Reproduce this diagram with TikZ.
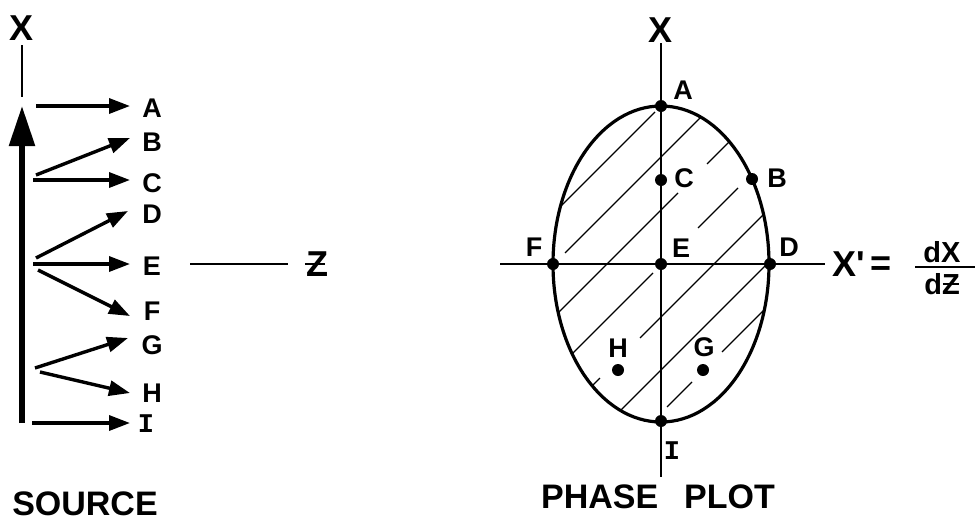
\documentclass[tikz,border=0pt]{standalone}
\usepackage{fontspec}
\setmainfont{Liberation Sans}
\newfontfamily\monoI{Liberation Mono}
\usetikzlibrary{arrows.meta}
\begin{document}
\begin{tikzpicture}[x=1pt,y=-1pt,
  lbl/.style={font=\bfseries\fontsize{27}{27}\selectfont, inner sep=0pt},
  big/.style={font=\bfseries\fontsize{36}{36}\selectfont, inner sep=0pt},
  title/.style={font=\bfseries\fontsize{34}{34}\selectfont, inner sep=0pt},
  frac/.style={font=\bfseries\fontsize{29}{29}\selectfont, inner sep=0pt},
  ray/.style={line width=3.4pt, -{Triangle[length=21pt,width=15pt]}},
  dot/.style={circle, fill, inner sep=0pt, minimum size=12pt},
  ax/.style={line width=1.7pt},
  hatch/.style={line width=1.2pt},
  zbar/.style={line width=2.6pt}]
\useasboundingbox (0,0) rectangle (976,523);
% ---------------- SOURCE ----------------
\node[big] (xl) at (22,28) {X};
\coordinate (xtop) at (22,45); \coordinate (xbot) at (22,97);
\draw[ax] (xtop) -- (xbot);
\coordinate (sb) at (22,423); \coordinate (st) at (22,106);
\draw[line width=5.5pt, -{Triangle[length=40pt,width=25pt]}] (sb) -- (st);
\foreach \n/\ly/\sx/\sy/\tx/\ty in {A/108/36/106/130/106, B/142/36/175/130/138, C/183/33/180/130/180,
  D/214/36/258/128/211, E/266/33/264/130/264, F/311/38/270/130/316, G/345/35/368/128/338,
  H/393/40/372/130/393}{
  \node[lbl] (s\n) at (152,\ly) {\n};
  \coordinate (r\n a) at (\sx,\sy);
  \coordinate (r\n b) at (\tx,\ty);
  \draw[ray] (r\n a) -- (r\n b);
}
\node[lbl,font=\monoI\bfseries\fontsize{27}{27}\selectfont] (sI) at (146,424) {I};
\coordinate (rIa) at (32,423); \coordinate (rIb) at (130,423);
\draw[ray] (rIa) -- (rIb);
\coordinate (za) at (190,264); \coordinate (zb) at (288,264);
\draw[ax] (za) -- (zb);
\node[big] (zl) at (317,264) {Z};
\draw[zbar] ([xshift=-1pt]zl.west) -- ([xshift=-3pt]zl.east);
\node[title] (src) at (85,504) {SOURCE};
% ---------------- PHASE PLOT ----------------
\coordinate (O) at (661,264);
\begin{scope}
\clip (O) ellipse [x radius=108pt, y radius=158pt];
\foreach \s/\a/\b in {767/550/655, 818/565/720, 871/540/678, 871/707/760, 926/560/653, 926/698/738,
  978/580/600, 978/640/790, 1031/600/790, 1074/667/692, 1074/722/790}
  \draw[hatch] (\a,{\s-\a}) -- (\b,{\s-\b});
\end{scope}
\draw[line width=3.2pt] (O) ellipse [x radius=108pt, y radius=158pt];
\coordinate (vt) at (661,43); \coordinate (vb) at (661,477);
\coordinate (hl) at (500,264); \coordinate (hr) at (825,264);
\draw[ax] (vt) -- (vb);
\draw[ax] (hl) -- (hr);
\node[big] (xr) at (660,30) {X};
\node[dot] (pA) at (661,106) {};
\node[dot] (pB) at (752,179) {};
\node[dot] (pC) at (661,180) {};
\node[dot] (pD) at (770,264) {};
\node[dot] (pE) at (661,264) {};
\node[dot] (pF) at (553,264) {};
\node[dot] (pG) at (703,370) {};
\node[dot] (pH) at (618,370) {};
\node[dot] (pI) at (661,421) {};
\node[lbl] (lA) at (683,90) {A};
\node[lbl] (lB) at (777,178) {B};
\node[lbl] (lC) at (684,178) {C};
\node[lbl] (lD) at (789,247) {D};
\node[lbl] (lE) at (681,248) {E};
\node[lbl] (lF) at (534,247) {F};
\node[lbl] (lG) at (704,347) {G};
\node[lbl] (lH) at (618,348) {H};
\node[lbl,font=\monoI\bfseries\fontsize{27}{27}\selectfont] (lI) at (672,451) {I};
\node[big] (xp) at (849,264) {X\textquotesingle};
\node[big] (eq) at (881,266) {=};
\node[frac] (dx) at (942,252) {dX};
\node[frac] (dz) at (942,284) {dZ};
\coordinate (fa) at (915,267); \coordinate (fb) at (975,267);
\draw[zbar] (fa) -- (fb);
\draw[line width=2pt] (dz.east) ++(-17pt,0) -- ++(16pt,0);
\node[title] (pp) at (658,497) {PHASE\hspace{26pt}PLOT};
\end{tikzpicture}
\end{document}
